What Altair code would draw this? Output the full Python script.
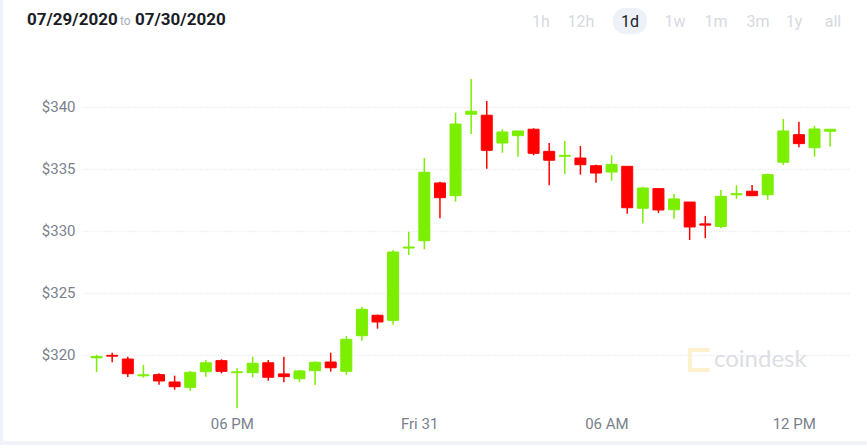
import altair as alt
import pandas as pd

# ---- data (30-minute candles) ----
opens = [319.75, 319.95, 319.65, 318.30, 318.39, 317.80, 317.37, 318.63, 319.52, 318.55,
         318.55, 319.35, 318.45, 318.06, 318.71, 319.41, 318.66, 321.53, 323.18, 322.77,
         328.60, 329.19, 333.85, 332.82, 339.39, 339.31, 337.07, 337.66, 338.18, 336.40,
         336.00, 335.86, 335.24, 334.73, 335.19, 331.81, 333.39, 331.69, 332.31, 330.55,
         330.35, 332.90, 333.18, 332.90, 335.52, 337.74, 336.69, 338.02]
closes = [319.85, 319.88, 318.47, 318.38, 317.88, 317.42, 318.58, 319.35, 318.66, 318.62,
          319.31, 318.18, 318.23, 318.69, 319.39, 318.95, 321.24, 323.66, 322.64, 328.28,
          328.68, 334.71, 332.66, 338.60, 339.63, 336.48, 337.96, 338.04, 336.24, 335.68,
          336.08, 335.32, 334.65, 335.35, 331.85, 333.44, 331.67, 332.56, 330.30, 330.45,
          332.77, 332.98, 332.82, 334.52, 338.04, 337.02, 338.20, 338.18]
highs = [320.00, 320.15, 319.84, 319.17, 318.50, 318.31, 318.69, 319.57, 319.63, 318.90,
         319.84, 319.57, 319.84, 318.77, 319.47, 320.16, 321.50, 323.87, 323.23, 328.44,
         329.92, 335.86, 333.95, 339.52, 342.23, 340.46, 338.18, 338.06, 338.26, 337.07,
         337.23, 336.83, 335.32, 336.08, 335.20, 333.55, 333.44, 332.96, 332.31, 331.19,
         333.28, 333.66, 333.69, 334.60, 339.00, 338.79, 338.44, 338.18]
lows = [318.60, 319.40, 318.20, 318.15, 317.58, 317.18, 317.07, 318.23, 318.50, 315.68,
        318.18, 317.90, 317.78, 317.80, 317.56, 318.63, 318.39, 321.13, 322.10, 322.42,
        328.04, 328.50, 331.00, 332.34, 337.80, 335.00, 336.29, 335.97, 336.08, 333.66,
        334.57, 334.52, 333.87, 334.03, 331.37, 330.60, 331.43, 330.97, 329.25, 329.39,
        330.19, 332.56, 332.80, 332.50, 335.30, 336.73, 335.97, 336.77]
times = pd.date_range("2020-07-30 13:40", periods=len(opens), freq="30min").strftime("%Y-%m-%dT%H:%M:%SZ").tolist()

y_ticks = [320, 325, 330, 335, 340]
range_buttons = ["1h", "12h", "1d", "1w", "1m", "3m", "1y", "all"]
date_from, date_to = "07/29/2020", "07/30/2020"

df = pd.DataFrame({"t": times, "open": opens, "close": closes, "high": highs, "low": lows})
df["dir"] = ["up" if c >= o else "down" for o, c in zip(opens, closes)]

GREEN, RED = "#7cee00", "#ff0000"
FONT = "Liberation Sans Narrow, Roboto, sans-serif"
W, H = 766, 362
PL, PT = 83, 50

col = alt.Color("dir:N", scale=alt.Scale(domain=["up", "down"], range=[GREEN, RED]), legend=None)
stk = alt.Stroke("dir:N", scale=alt.Scale(domain=["up", "down"], range=[GREEN, RED]), legend=None)

xenc = alt.X(
    "t:T",
    scale=alt.Scale(type="utc",
                    domain=[alt.DateTime(year=2020, month=7, date=30, hours=13, minutes=23, seconds=30, utc=True),
                            alt.DateTime(year=2020, month=7, date=31, hours=13, minutes=36, seconds=40, utc=True)]),
    axis=alt.Axis(
        title=None, grid=False, ticks=False, domain=False, labelPadding=4,
        values=[alt.DateTime(year=2020, month=7, date=30, hours=18, utc=True),
                alt.DateTime(year=2020, month=7, date=31, hours=0, utc=True),
                alt.DateTime(year=2020, month=7, date=31, hours=6, utc=True),
                alt.DateTime(year=2020, month=7, date=31, hours=12, utc=True)],
        labelExpr="utchours(datum.value) == 0 ? utcFormat(datum.value, '%a %d') : utcFormat(datum.value, '%I %p')",
        labelFont=FONT, labelFontSize=15, labelColor="#7a7f8c",
    ),
)
yscale = alt.Scale(domain=[315.38, 344.57], zero=False, nice=False)

base = alt.Chart(df)
wicks = base.mark_rule(strokeWidth=1.5).encode(
    x=xenc,
    y=alt.Y("low:Q", scale=yscale,
            axis=alt.Axis(title=None, values=y_ticks, labelExpr="'$' + datum.value", ticks=False, domain=False,
                          grid=True, gridColor="#e2e6f0", gridDash=[1, 2], gridWidth=1.5,
                          labelPadding=8, labelFont=FONT, labelFontSize=15, labelColor="#7a7f8c")),
    y2="high:Q",
    color=col,
)
bodies = base.mark_bar(size=11, strokeWidth=1).encode(
    x="t:T", y=alt.Y("open:Q", scale=yscale), y2="close:Q", color=col, stroke=stk,
)

one = pd.DataFrame({"a": [0]})


def txt(s, x, y, size, color, weight="normal", align="left", font=FONT):
    return alt.Chart(one).mark_text(text=s, align=align, baseline="middle", fontSize=size, fontWeight=weight,
                                    color=color, font=font).encode(x=alt.value(x - PL), y=alt.value(y - PT))


def rect(x1, x2, y1, y2, color, radius=0, opacity=1.0):
    return alt.Chart(one).mark_rect(color=color, cornerRadius=radius, opacity=opacity).encode(
        x=alt.value(x1 - PL), x2=alt.value(x2 - PL), y=alt.value(y1 - PT), y2=alt.value(y2 - PT))


deco = [
    rect(0, 3, 0, 445, "#eef1f7"),
    rect(0, 867, 441, 445, "#f1f3f8"),
    txt(date_from, 27, 20, 17, "#1a1d26", "bold"),
    txt("to", 120, 21, 12, "#a9adb8"),
    txt(date_to, 135, 20, 17, "#1a1d26", "bold"),
    rect(613, 647, 8, 34, "#eef1f7", radius=12),
]
btn_x = [541, 581, 630, 675, 716, 758, 794, 833]
for lab, bx in zip(range_buttons, btn_x):
    deco.append(txt(lab, bx, 22, 16, "#1a1d26" if lab == "1d" else "#d6d9e2", align="center"))

# watermark
wm = "#fdf0cf"
deco += [
    rect(688, 710, 348, 352, wm, radius=2),
    rect(688, 692, 348, 372, wm, radius=2),
    rect(688, 710, 368, 372, wm, radius=2),
    txt("coindesk", 714, 360, 24, "#dcdee4", font="Lato, Open Sans, sans-serif"),
]

chart = alt.layer(*deco, wicks, bodies).properties(
    width=W, height=H,
    autosize=alt.AutoSizeParams(type="none"),
    padding={"left": PL, "top": PT, "right": 867 - PL - W, "bottom": 445 - PT - H},
    background="white",
).configure_view(stroke=None)

chart.save("out.html", embed_options={"renderer": "svg", "actions": False})
